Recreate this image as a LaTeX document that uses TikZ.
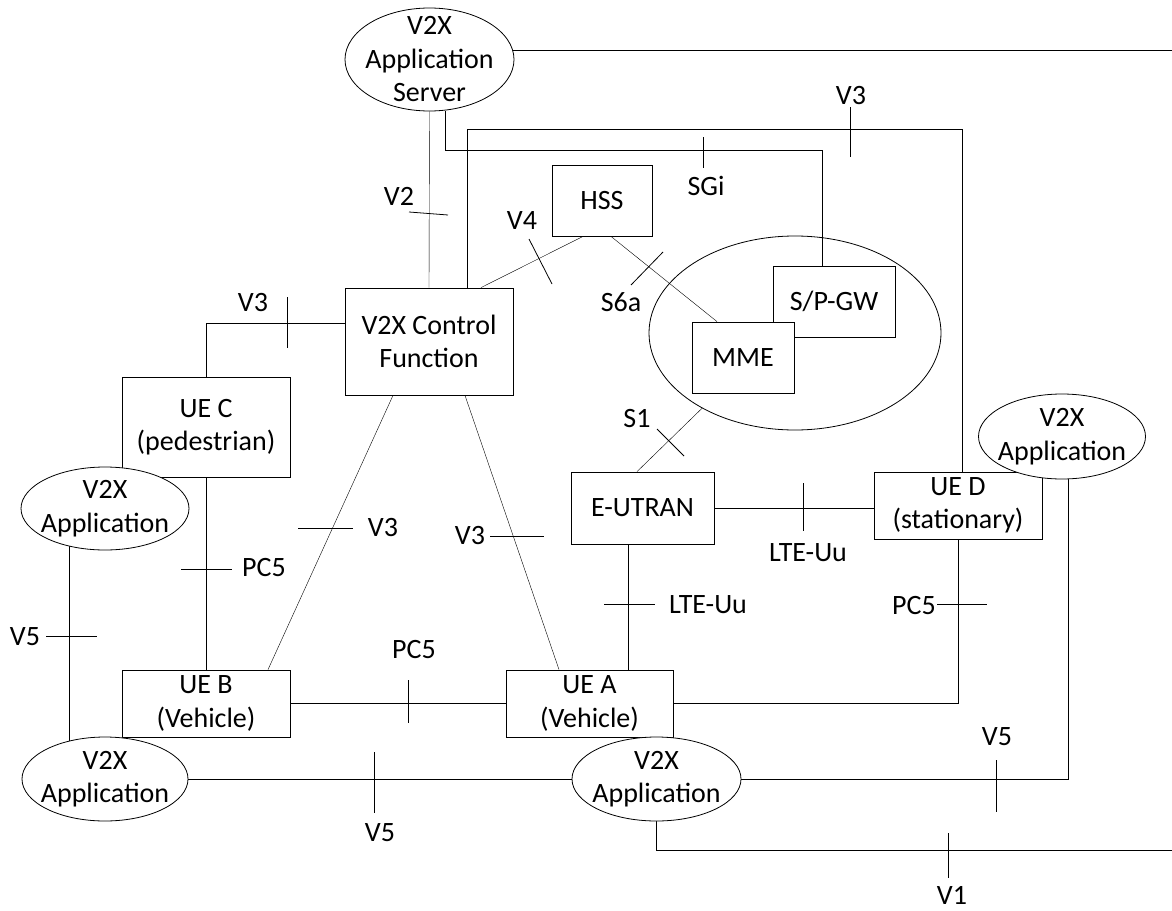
\documentclass[tikz,border=0pt]{standalone}
\usepackage{fontspec}
\setmainfont{Carlito}
\usetikzlibrary{shapes.geometric, backgrounds}

\begin{document}
\begin{tikzpicture}[
    x=1pt, y=-1pt,
    line width=0.8pt,
    font=\fontsize{28}{33.5}\selectfont,
    box/.style={draw=black, fill=white, inner sep=0pt, align=center},
    app/.style={ellipse, draw=black, fill=white, inner sep=0pt},
    core/.style={ellipse, draw=black, inner sep=0pt},
    apptext/.style={inner sep=0pt, align=center},
    link/.style={draw=black},
    tick/.style={draw=black},
    lbl/.style={inner sep=0pt}
]
    \useasboundingbox (0,0) rectangle (1172,910);

    \node[core, minimum width=292pt, minimum height=194pt] (epc) at (795,333) {};
    \node[box, minimum width=168pt, minimum height=107pt] (cf) at (429,341.5) {V2X Control\\Function};
    \node[box, minimum width=100pt, minimum height=71pt] (hss) at (602,200.5) {HSS};
    \node[box, minimum width=122pt, minimum height=71pt] (gw) at (834,301.5) {S/P-GW};
    \node[box, minimum width=102pt, minimum height=71pt] (mme) at (743,357.5) {MME};
    \node[box, minimum width=143pt, minimum height=72pt] (eutran) at (642.5,508) {E-UTRAN};
    \node[box, minimum width=168pt, minimum height=67pt] (ueD) at (958,505.5) {UE D\\(stationary)};
    \node[box, minimum width=168pt, minimum height=100pt] (ueC) at (206,427) {UE C\\(pedestrian)};
    \node[box, minimum width=168pt, minimum height=67pt] (ueB) at (206,703.5) {UE B\\(Vehicle)};
    \node[box, minimum width=167pt, minimum height=67pt] (ueA) at (589.5,703.5) {UE A\\(Vehicle)};

    \node[app, minimum width=169pt, minimum height=103pt,
        label={[apptext]center:V2X\\Application\\Server}] (srv) at (429.5,59.5) {};
    \node[app, minimum width=167pt, minimum height=85pt,
        label={[apptext]center:V2X\\Application}] (appD) at (1062,436.5) {};
    \node[app, minimum width=168pt, minimum height=83pt,
        label={[apptext]center:V2X\\Application}] (appC) at (105,508.5) {};
    \node[app, minimum width=166pt, minimum height=84pt,
        label={[apptext]center:V2X\\Application}] (appB) at (105,779) {};
    \node[app, minimum width=169pt, minimum height=84pt,
        label={[apptext]center:V2X\\Application}] (appA) at (656.5,779) {};

    \coordinate (rimTop) at (1172,50);
    \coordinate (rimBot) at (1172,850);
    \coordinate (sgiTop) at (822,150);
    \coordinate (v3Top) at (962,129);

    \begin{scope}[on background layer]
        \draw[link] (srv.center |- rimTop) -- (rimTop);
        \draw[link] (srv.south) -- (cf.north);
        \draw[link] ([xshift=16pt]srv.south) |- (sgiTop) -- (gw.north -| sgiTop);
        \draw[link] ([xshift=38pt]cf.north) |- (v3Top) -- (ueD.north -| v3Top);
        \draw[link] ([xshift=-19pt]hss.south) -- ([xshift=52pt]cf.north);
        \draw[link] ([xshift=9pt]hss.south) -- ([xshift=-26pt]mme.north);
        \draw[link] (epc.219) -- ([xshift=-5.5pt]eutran.north);
        \draw[link] (eutran.east) -- (eutran.east -| ueD.west);
        \draw[link] ([xshift=-14pt]eutran.south) -- ([xshift=-14pt]eutran.south |- ueA.north);
        \draw[link] (ueA.east) -| (ueD.south);
        \draw[link] (ueB.east) -- (ueA.west);
        \draw[link] ([xshift=-36pt]cf.south) -- ([xshift=62pt]ueB.north);
        \draw[link] ([xshift=36pt]cf.south) -- ([xshift=-30.5pt]ueA.north);
        \draw[link] ([yshift=18.5pt]cf.west) -| (ueC.north);
        \draw[link] (ueC.south) -- (ueB.north);
        \draw[link] ([xshift=-36pt]appC.center) -- ([xshift=-36pt]appB.center);
        \draw[link] (appB.east) -- (appA.west);
        \draw[link] (appA.east) -| ([xshift=6pt]appD.south);
        \draw[link] (appA.south) |- (rimBot);
    \end{scope}

    \draw[tick] (409,212) -- (448,215);
    \draw[tick] (703,137) -- (703,168);
    \draw[tick] (850,107) -- (850,157);
    \draw[tick] (529,239) -- (552,284);
    \draw[tick] (663,252) -- (631,285);
    \draw[tick] (657,429) -- (684,456);
    \draw[tick] (287,297) -- (287,348);
    \draw[tick] (298,528) -- (353,528);
    \draw[tick] (490,536) -- (544,536);
    \draw[tick] (181,569) -- (232,569);
    \draw[tick] (46,636) -- (97,636);
    \draw[tick] (408,680) -- (408,723);
    \draw[tick] (604,604) -- (655,604);
    \draw[tick] (803,483) -- (803,531);
    \draw[tick] (937,604) -- (987,604);
    \draw[tick] (996,760) -- (996,812);
    \draw[tick] (374,752) -- (374,813);
    \draw[tick] (948,833) -- (948,878);

    \node[lbl] (lV2) at (399,196) {V2};
    \node[lbl] (lSGi) at (706,186) {SGi};
    \node[lbl] (lV3top) at (851,96) {V3};
    \node[lbl] (lV4) at (522,221) {V4};
    \node[lbl] (lS6a) at (621,302) {S6a};
    \node[lbl] (lS1) at (637,419) {S1};
    \node[lbl] (lV3ueC) at (253,303) {V3};
    \node[lbl] (lV3ueB) at (383,528) {V3};
    \node[lbl] (lV3ueA) at (470,536) {V3};
    \node[lbl] (lPC5ueC) at (264,568) {PC5};
    \node[lbl] (lV5left) at (25,637) {V5};
    \node[lbl] (lPC5ueB) at (414,650) {PC5};
    \node[lbl] (lUuA) at (708,605) {LTE-Uu};
    \node[lbl] (lUuD) at (808,553) {LTE-Uu};
    \node[lbl] (lPC5ueD) at (914,606) {PC5};
    \node[lbl] (lV5right) at (997,737) {V5};
    \node[lbl] (lV5bot) at (380,833) {V5};
    \node[lbl] (lV1) at (952,895) {V1};
\end{tikzpicture}
\end{document}
